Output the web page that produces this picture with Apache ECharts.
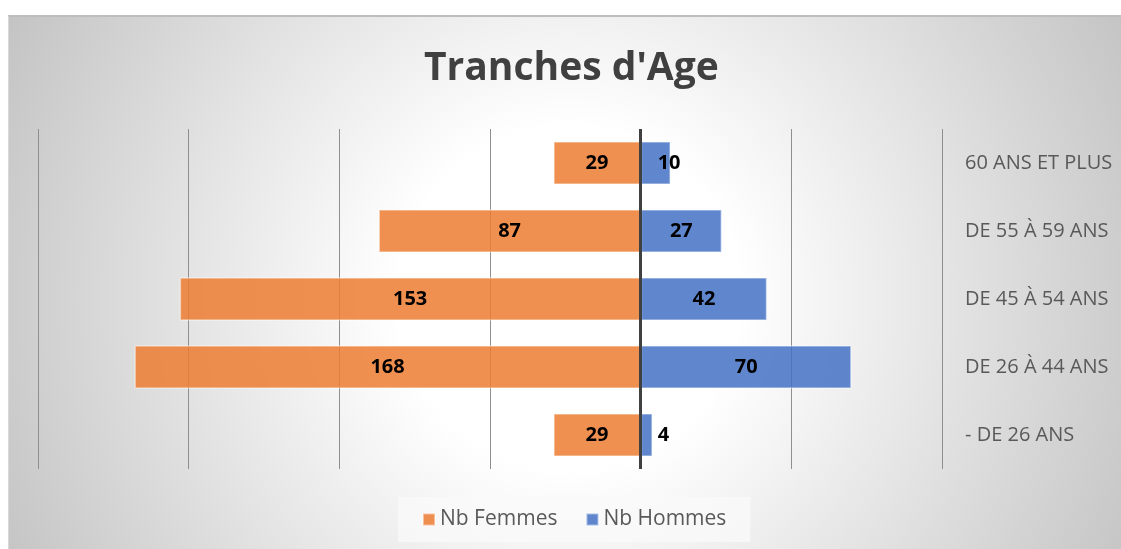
<!DOCTYPE html>
<html>
<head>
<meta charset="utf-8">
<script src="https://cdn.jsdelivr.net/npm/echarts@6/dist/echarts.min.js"></script>
<style>
  html, body { margin: 0; padding: 0; background: #fff; }
  #wrap { position: relative; width: 1121px; height: 549px; overflow: hidden; }
  #bg {
    position: absolute; left: 8px; top: 15px; width: 1120px; height: 540px;
    border-top: 2px solid #bdbdbd; border-left: 1px solid #d8d8d8;
    background: radial-gradient(circle at 50% 52%, #ffffff 0px, #ffffff 170px, #c2c2c2 640px);
  }
  #chart { position: absolute; left: 0; top: 0; width: 1121px; height: 549px; }
</style>
</head>
<body>
<div id="wrap">
  <div id="bg"></div>
  <div id="chart"></div>
</div>
<script>
// tranches d'âge, de bas en haut
const categories = ['- DE 26 ANS', 'DE 26 À 44 ANS', 'DE 45 À 54 ANS', 'DE 55 À 59 ANS', '60 ANS ET PLUS']
const femmes = [29, 168, 153, 87, 29]
const hommes = [4, 70, 42, 27, 10]

const font = '"Open Sans", sans-serif'

const chart = echarts.init(document.getElementById('chart'), null, { renderer: 'canvas' })

const valueLabel = {
  show: true,
  position: 'inside',
  color: '#000',
  fontFamily: font,
  fontWeight: 'bold',
  fontSize: 20,
  formatter: p => Math.abs(p.value)
}

chart.setOption({
  backgroundColor: 'transparent',
  animation: false,
  title: {
    text: "Tranches d'Age",
    left: 419,
    top: 44,
    textStyle: { fontFamily: font, fontSize: 39, fontWeight: 'bold', color: '#404040' }
  },
  legend: {
    left: 398,
    top: 497,
    padding: [12, 24],
    backgroundColor: 'rgba(250,250,250,0.75)',
    itemGap: 28,
    itemWidth: 12,
    itemHeight: 12,
    icon: 'rect',
    textStyle: { fontFamily: font, fontSize: 21, color: '#595959' },
    data: ['Nb Femmes', 'Nb Hommes']
  },
  grid: { left: 38, right: 179, top: 129, bottom: 80 },
  xAxis: {
    type: 'value',
    min: -200,
    max: 100,
    interval: 50,
    axisLabel: { show: false },
    axisLine: { show: false },
    axisTick: { show: false },
    splitLine: { lineStyle: { color: '#8f8f8f', width: 1 } }
  },
  yAxis: {
    type: 'category',
    position: 'right',
    data: categories,
    axisLine: { show: false },
    axisTick: { show: false },
    axisLabel: { margin: 23, fontFamily: font, fontSize: 20, color: '#595959' }
  },
  series: [
    {
      name: 'Nb Femmes',
      type: 'bar',
      stack: 'pyramide',
      barWidth: '64%',
      data: femmes.map(v => -v),
      itemStyle: { color: 'rgba(237,125,49,0.85)', borderColor: 'rgba(255,255,255,0.45)', borderWidth: 1.5 },
      label: valueLabel
    },
    {
      name: 'Nb Hommes',
      type: 'bar',
      stack: 'pyramide',
      barWidth: '64%',
      data: hommes.map(v => v < 12 ? { value: v, label: { position: 'insideLeft', distance: 17 } } : v),
      itemStyle: { color: 'rgba(68,114,196,0.85)', borderColor: 'rgba(255,255,255,0.45)', borderWidth: 1.5 },
      label: valueLabel,
      markLine: {
        silent: true,
        symbol: 'none',
        z: 10,
        label: { show: false },
        lineStyle: { color: '#404040', width: 3, type: 'solid' },
        data: [{ xAxis: 0 }]
      }
    }
  ]
})
</script>
</body>
</html>
